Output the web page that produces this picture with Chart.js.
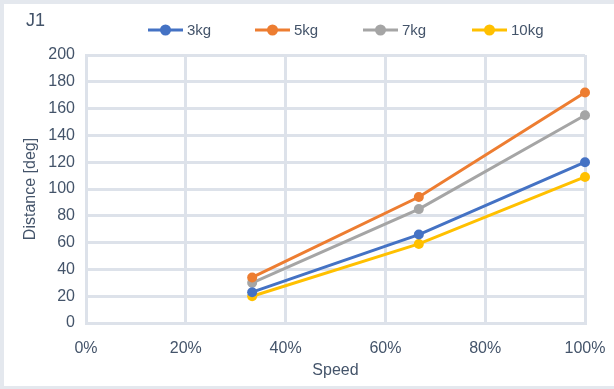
<!DOCTYPE html>
<html>
<head>
<meta charset="utf-8">
<script src="https://cdn.jsdelivr.net/npm/chart.js@4"></script>
<style>
  html, body { margin: 0; padding: 0; background: #e4e8ee; }
  #frame { position: absolute; left: 4px; top: 4px; width: 610px; height: 382px; background: #fff; }
  canvas { display: block; }
</style>
</head>
<body>
<div id="frame"><canvas id="chart" width="610" height="382"></canvas></div>
<script>
// Data
const speeds = [0.333, 0.667, 1.0];
const seriesNames = ['3kg', '5kg', '7kg', '10kg'];
const dist3 = [23, 66, 120];
const dist5 = [34, 94, 172];
const dist7 = [30, 85, 155];
const dist10 = [20, 59, 109];
const colors = ['#4472c4', '#ed7d31', '#a5a5a5', '#ffc000'];

const textColor = '#44546a';
const gridColor = '#dde2ea';
const font = 'Liberation Sans, Arial, sans-serif';

const allSeries = [dist3, dist5, dist7, dist10];
const datasets = allSeries.map((vals, i) => ({
  label: seriesNames[i],
  data: vals.map((v, j) => ({ x: speeds[j], y: v })),
  borderColor: colors[i],
  backgroundColor: colors[i],
  borderWidth: 3,
  pointRadius: 5,
  pointHoverRadius: 5,
  pointBorderWidth: 0,
  clip: false
}));

// Title and line-style legend drawn on the canvas
const headerPlugin = {
  id: 'header',
  afterDraw(chart) {
    const ctx = chart.ctx;
    ctx.save();
    ctx.fillStyle = textColor;
    ctx.font = '18px ' + font;
    ctx.textBaseline = 'middle';
    ctx.fillText('J1', 22, 17);

    const starts = [144, 251, 359, 468];
    ctx.font = '15px ' + font;
    chart.data.datasets.forEach((ds, i) => {
      const x = starts[i], y = 26;
      ctx.strokeStyle = ds.borderColor;
      ctx.lineWidth = 3;
      ctx.beginPath();
      ctx.moveTo(x, y);
      ctx.lineTo(x + 35, y);
      ctx.stroke();
      ctx.fillStyle = ds.borderColor;
      ctx.beginPath();
      ctx.arc(x + 17.5, y, 5.5, 0, Math.PI * 2);
      ctx.fill();
      ctx.fillStyle = textColor;
      ctx.fillText(ds.label, x + 39, y + 1);
    });
    ctx.restore();
  }
};

new Chart(document.getElementById('chart'), {
  type: 'line',
  data: { datasets },
  plugins: [headerPlugin],
  options: {
    responsive: false,
    animation: false,
    layout: { padding: { top: 51, right: 29, left: 0, bottom: 0 } },
    plugins: { legend: { display: false }, tooltip: { enabled: false } },
    scales: {
      x: {
        type: 'linear',
        min: 0,
        max: 1,
        afterFit(scale) {
          scale.height = 63;
          scale.paddingLeft = 0;
          scale.paddingRight = 0;
        },
        grid: { color: gridColor, lineWidth: 3, drawTicks: false },
        border: { color: gridColor, width: 3 },
        ticks: {
          stepSize: 0.2,
          padding: 16,
          maxRotation: 0,
          color: textColor,
          font: { family: font, size: 16 },
          callback: v => Math.round(v * 100) + '%'
        },
        title: {
          display: true,
          text: 'Speed',
          color: textColor,
          font: { family: font, size: 16 },
          padding: { top: 2, bottom: 6 }
        }
      },
      y: {
        min: 0,
        max: 200,
        afterFit(scale) { scale.width = 82; },
        grid: { color: gridColor, lineWidth: 3, drawTicks: false },
        border: { color: gridColor, width: 3 },
        ticks: {
          stepSize: 20,
          padding: 11,
          color: textColor,
          font: { family: font, size: 16 }
        },
        title: {
          display: true,
          text: 'Distance [deg]',
          color: textColor,
          font: { family: font, size: 16 },
          padding: { top: 17, bottom: 0 }
        }
      }
    }
  }
});
</script>
</body>
</html>
